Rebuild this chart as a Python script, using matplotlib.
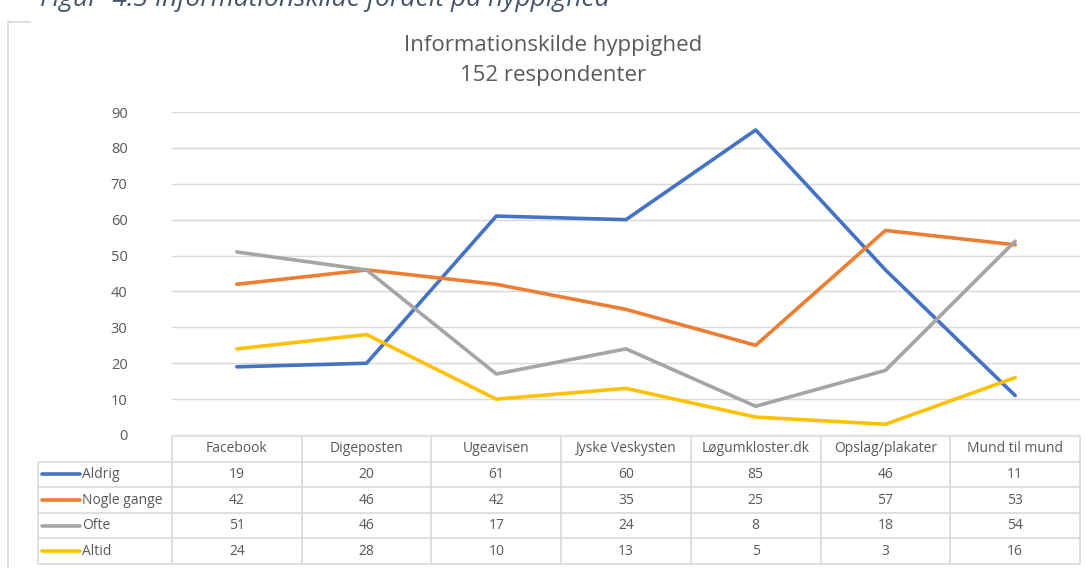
import matplotlib
matplotlib.use("Agg")
import matplotlib.pyplot as plt
from matplotlib.lines import Line2D

plt.rcParams['font.family'] = ['Open Sans', 'DejaVu Sans']

# data
categories = ['Facebook', 'Digeposten', 'Ugeavisen', 'Jyske Veskysten',
              'Løgumkloster.dk', 'Opslag/plakater', 'Mund til mund']
series_names = ['Aldrig', 'Nogle gange', 'Ofte', 'Altid']
aldrig = [19, 20, 61, 60, 85, 46, 11]
nogle_gange = [42, 46, 42, 35, 25, 57, 53]
ofte = [51, 46, 17, 24, 8, 18, 54]
altid = [24, 28, 10, 13, 5, 3, 16]
colors = ['#4472C4', '#ED7D31', '#A5A5A5', '#FFC000']

W, H = 1086, 568
fig = plt.figure(figsize=(W / 100, H / 100), dpi=100)
fig.patch.set_facecolor('white')

txt = '#595959'
grid = '#D9D9D9'

# caption, cut off at the top edge like in the source screenshot
fig.text(40 / W, 1 - 6 / H, 'Figur  4.3 Informationskilde fordelt på hyppighed',
         fontsize=19, style='italic', color='#44546A', ha='left', va='baseline')

# chart area border (left edge + bit of top)
fig.add_artist(Line2D([8 / W, 8 / W], [0, 1 - 22 / H], color=grid, lw=1.2))
fig.add_artist(Line2D([8 / W, 30 / W], [1 - 22 / H, 1 - 22 / H], color=grid, lw=1.2))

fig.text(553 / W, 1 - 45 / H, 'Informationskilde hyppighed', fontsize=16,
         color=txt, ha='center', va='center')
fig.text(553 / W, 1 - 75 / H, '152 respondenter', fontsize=16,
         color=txt, ha='center', va='center')

# line chart
ax = fig.add_axes([172 / W, 1 - 435 / H, 908 / W, 323 / H])
x = list(range(len(categories)))
all_series = [aldrig, nogle_gange, ofte, altid]
for vals, c in zip(all_series, colors):
    ax.plot(x, vals, color=c, lw=2.6, solid_capstyle='round', zorder=3)
ax.set_xlim(-0.5, 6.5)
ax.set_ylim(0, 90)
ax.set_yticks(range(0, 91, 10))
ax.yaxis.grid(True, color=grid, lw=1)
ax.set_xticks([])
ax.tick_params(axis='y', length=0, pad=32, labelsize=10.5, labelcolor=txt)
for s in ax.spines.values():
    s.set_visible(False)

# data table
tab = fig.add_axes([172 / W, 1 - 564 / H, 908 / W, 128 / H])
tab.set_xlim(-0.5, 6.5)
tab.set_ylim(5, 0)
tab.axis('off')
left = -0.5 - 134 / (908 / 7)
tab.hlines(0, -0.5, 6.5, color=grid, lw=1.2, clip_on=False)
for r in range(1, 6):
    tab.hlines(r, left, 6.5, color=grid, lw=1.2, clip_on=False)
for k in range(8):
    tab.vlines(-0.5 + k, 0, 5, color=grid, lw=1.2, clip_on=False)
tab.vlines(left, 1, 5, color=grid, lw=1.2, clip_on=False)

for i, cat in enumerate(categories):
    tab.text(i, 0.5, cat, ha='center', va='center', fontsize=10, color=txt)
for r, (name, vals, c) in enumerate(zip(series_names, all_series, colors), start=1):
    tab.plot([left + 0.03, left + 0.32], [r + 0.5, r + 0.5], color=c, lw=2.6,
             solid_capstyle='round', clip_on=False)
    tab.text(left + 0.34, r + 0.5, name, ha='left', va='center', fontsize=10, color=txt)
    for i, v in enumerate(vals):
        tab.text(i, r + 0.5, str(v), ha='center', va='center', fontsize=10, color=txt)

fig.savefig('out.png', dpi=100)
